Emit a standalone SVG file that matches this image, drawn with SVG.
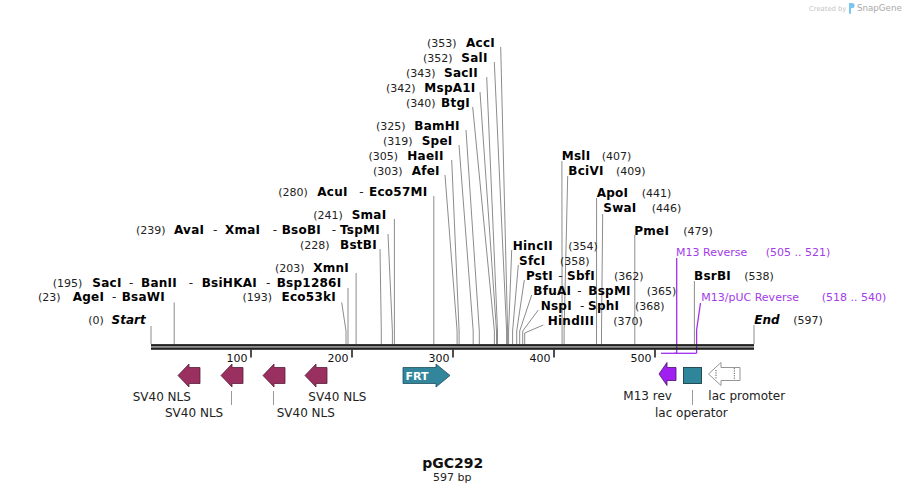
<svg xmlns="http://www.w3.org/2000/svg" width="906" height="494" viewBox="0 0 906 494">
<style>
text{font-family:"DejaVu Sans",Verdana,sans-serif}
.n{font-size:12px;font-weight:bold;fill:#000;letter-spacing:0.25px}
.p{font-size:11px;fill:#222}
.d{font-size:12px;fill:#222}
.i{font-size:12px;font-weight:bold;font-style:italic;fill:#000}
.pr{font-size:11px;fill:#a33be8}
.f{font-size:12px;fill:#222}
.tk{font-size:11px;fill:#111}
.cl{fill:none;stroke:#8c8c8c;stroke-width:1}
.pl{fill:none;stroke:#a12ff0;stroke-width:1.3}
.sv{fill:#99305f;stroke:#5a1c38;stroke-width:0.8}
.ft{fill:#31869c;stroke:#1f4f5c;stroke-width:0.8}
</style>
<rect width="906" height="494" fill="#fff"/>

<g id="watermark">
<text x="809" y="10.5" style="font-size:6.8px;fill:#c4c4c4">Created by</text>
<path d="M849 3 h3 a2.6 2.6 0 0 1 0 5.2 h-1 v5.6 h-2 z" fill="#7cc5ee"/>
<text x="857" y="11" style="font-size:8.7px;fill:#a9a9a9">SnapGene</text>
</g>

<g id="connectors">
<polyline class="cl" points="500.7,47 507.6,331 507.6,344"/>
<polyline class="cl" points="494.3,62 506.6,331 506.6,344"/>
<polyline class="cl" points="486.7,77 497.5,331 497.5,344"/>
<polyline class="cl" points="480,92 496.5,331 496.5,344"/>
<polyline class="cl" points="472.7,107 494.4,331 494.4,344"/>
<polyline class="cl" points="466,130 479.3,331 479.3,344"/>
<polyline class="cl" points="459,145 473.2,331 473.2,344"/>
<polyline class="cl" points="451.7,160 459.1,331 459.1,344"/>
<polyline class="cl" points="445,175 457.1,331 457.1,344"/>
<polyline class="cl" points="433.8,196 433.8,344"/>
<polyline class="cl" points="394.4,219 394.4,344"/>
<polyline class="cl" points="388,234 392.4,331 392.4,344"/>
<polyline class="cl" points="380,249 381.3,331 381.3,344"/>
<polyline class="cl" points="356.1,273 356.1,344"/>
<polyline class="cl" points="348,288 348,344"/>
<polyline class="cl" points="341.7,302.5 346,331 346,344"/>
<polyline class="cl" points="174.2,302.5 174.2,344"/>
<polyline class="cl" points="151,326 151,344"/>
<polyline class="cl" points="511.7,250 508.6,331 508.6,344"/>
<polyline class="cl" points="518.3,265 512.6,331 512.6,344"/>
<polyline class="cl" points="524.3,280 516.7,331 516.7,344"/>
<polyline class="cl" points="531.7,295 519.7,331 519.7,344"/>
<polyline class="cl" points="538.3,310 522.7,331 522.7,344"/>
<polyline class="cl" points="543.3,325 524.7,333 524.7,344"/>
<polyline class="cl" points="561.9,161 562.1,344"/>
<polyline class="cl" points="567.7,176 564.1,331 564.1,344"/>
<polyline class="cl" points="596.6,198 596.5,344"/>
<polyline class="cl" points="602.7,214 601.5,331 601.5,344"/>
<polyline class="cl" points="634.8,235 634.8,344"/>
<polyline class="cl" points="694.4,281 694.4,344"/>
<polyline class="cl" points="754,325 754,344"/>
<polyline class="pl" points="676.7,258 676.7,353.3"/>
<polyline class="pl" points="700.5,303 696.6,330 696.6,353.3"/>
<line class="pl" x1="661" y1="353.3" x2="677.3" y2="353.3"/>
<line class="pl" x1="674.2" y1="353.3" x2="696.6" y2="353.3"/>
<line x1="231.5" y1="391" x2="231.5" y2="405" stroke="#999"/>
<line x1="273.5" y1="391" x2="273.5" y2="405" stroke="#999"/>
<line x1="692.5" y1="390" x2="692.5" y2="405" stroke="#999"/>
</g>

<g id="backbone">
<rect x="151" y="344.1" width="603" height="2.4" fill="#222"/>
<rect x="151" y="347.4" width="603" height="2.4" fill="#222"/>
<g stroke="#222" stroke-width="1.6">
<line x1="251" y1="349.5" x2="251" y2="357.5"/>
<line x1="352" y1="349.5" x2="352" y2="357.5"/>
<line x1="453" y1="349.5" x2="453" y2="357.5"/>
<line x1="554" y1="349.5" x2="554" y2="357.5"/>
<line x1="655" y1="349.5" x2="655" y2="357.5"/>
</g>
<text class="tk" x="247.5" y="361.5" text-anchor="end">100</text>
<text class="tk" x="348.5" y="361.5" text-anchor="end">200</text>
<text class="tk" x="449.5" y="361.5" text-anchor="end">300</text>
<text class="tk" x="550.5" y="361.5" text-anchor="end">400</text>
<text class="tk" x="651.5" y="361.5" text-anchor="end">500</text>
</g>

<g id="site-AccI"><text class="p" x="427" y="47">(353)</text><text class="n" x="466" y="47">AccI</text></g>
<g id="site-SalI"><text class="p" x="423" y="62">(352)</text><text class="n" x="461.3" y="62">SalI</text></g>
<g id="site-SacII"><text class="p" x="406" y="77">(343)</text><text class="n" x="444" y="77">SacII</text></g>
<g id="site-MspA1I"><text class="p" x="386" y="92">(342)</text><text class="n" x="424.3" y="92">MspA1I</text></g>
<g id="site-BtgI"><text class="p" x="406" y="107">(340)</text><text class="n" x="441" y="107">BtgI</text></g>
<g id="site-BamHI"><text class="p" x="376" y="130">(325)</text><text class="n" x="414.3" y="130">BamHI</text></g>
<g id="site-SpeI"><text class="p" x="383" y="145">(319)</text><text class="n" x="421.7" y="145">SpeI</text></g>
<g id="site-HaeII"><text class="p" x="368.5" y="160">(305)</text><text class="n" x="407.3" y="160">HaeII</text></g>
<g id="site-AfeI"><text class="p" x="373" y="175">(303)</text><text class="n" x="411.7" y="175">AfeI</text></g>
<g id="site-AcuI"><text class="p" x="278.3" y="196">(280)</text><text class="n" x="317.3" y="196">AcuI</text><text class="d" x="359.3" y="196">-</text><text class="n" x="369" y="196">Eco57MI</text></g>
<g id="site-SmaI"><text class="p" x="313.3" y="219">(241)</text><text class="n" x="351.7" y="219">SmaI</text></g>
<g id="site-AvaI"><text class="p" x="136" y="234">(239)</text><text class="n" x="174" y="234">AvaI</text><text class="d" x="213" y="234">-</text><text class="n" x="225" y="234">XmaI</text><text class="d" x="272.7" y="234">-</text><text class="n" x="281.7" y="234">BsoBI</text><text class="d" x="331.7" y="234">-</text><text class="n" x="340" y="234">TspMI</text></g>
<g id="site-BstBI"><text class="p" x="300" y="249">(228)</text><text class="n" x="340" y="249">BstBI</text></g>
<g id="site-XmnI"><text class="p" x="275" y="271.5">(203)</text><text class="n" x="313.3" y="271.5">XmnI</text></g>
<g id="site-SacI"><text class="p" x="52.7" y="286.5">(195)</text><text class="n" x="92.3" y="286.5">SacI</text><text class="d" x="129" y="286.5">-</text><text class="n" x="141" y="286.5">BanII</text><text class="d" x="188.7" y="286.5">-</text><text class="n" x="201.7" y="286.5">BsiHKAI</text><text class="d" x="266" y="286.5">-</text><text class="n" x="276.7" y="286.5">Bsp1286I</text></g>
<g id="site-Eco53kI"><text class="p" x="242.5" y="301">(193)</text><text class="n" x="281.5" y="301">Eco53kI</text></g>
<g id="site-AgeI"><text class="p" x="38" y="301">(23)</text><text class="n" x="72.7" y="301">AgeI</text><text class="d" x="112" y="301">-</text><text class="n" x="121.7" y="301">BsaWI</text></g>
<g id="site-Start"><text class="p" x="88.3" y="324">(0)</text><text class="i" x="111.5" y="324">Start</text></g>

<g id="site-MslI"><text class="n" x="561.7" y="159.5">MslI</text><text class="p" x="601.7" y="159.5">(407)</text></g>
<g id="site-BciVI"><text class="n" x="568.3" y="174.5">BciVI</text><text class="p" x="616" y="174.5">(409)</text></g>
<g id="site-ApoI"><text class="n" x="596.7" y="196.5">ApoI</text><text class="p" x="641.7" y="196.5">(441)</text></g>
<g id="site-SwaI"><text class="n" x="603.3" y="211.5">SwaI</text><text class="p" x="651.7" y="211.5">(446)</text></g>
<g id="site-PmeI"><text class="n" x="634.3" y="234.5">PmeI</text><text class="p" x="683.3" y="234.5">(479)</text></g>
<g id="site-HincII"><text class="n" x="512.7" y="249.5">HincII</text><text class="p" x="568.3" y="249.5">(354)</text></g>
<g id="site-SfcI"><text class="n" x="519" y="264.5">SfcI</text><text class="p" x="560" y="264.5">(358)</text></g>
<g id="site-PstI"><text class="n" x="526" y="279.5">PstI</text><text class="d" x="558.3" y="279.5">-</text><text class="n" x="567" y="279.5">SbfI</text><text class="p" x="614" y="279.5">(362)</text></g>
<g id="site-BfuAI"><text class="n" x="533.3" y="294.5">BfuAI</text><text class="d" x="577.3" y="294.5">-</text><text class="n" x="588.3" y="294.5">BspMI</text><text class="p" x="646.7" y="294.5">(365)</text></g>
<g id="site-NspI"><text class="n" x="540.7" y="309.5">NspI</text><text class="d" x="580" y="309.5">-</text><text class="n" x="588" y="309.5">SphI</text><text class="p" x="635" y="309.5">(368)</text></g>
<g id="site-HindIII"><text class="n" x="547.7" y="324.5">HindIII</text><text class="p" x="613.3" y="324.5">(370)</text></g>
<g id="primer-M13Reverse"><text class="pr" x="676" y="255.5">M13 Reverse</text><text class="pr" x="765.7" y="255.5">(505 .. 521)</text></g>
<g id="site-BsrBI"><text class="n" x="694" y="279.5">BsrBI</text><text class="p" x="744.3" y="279.5">(538)</text></g>
<g id="primer-M13pUCReverse"><text class="pr" x="701.3" y="301">M13/pUC Reverse</text><text class="pr" x="821.7" y="301">(518 .. 540)</text></g>
<g id="site-End"><text class="i" x="754.3" y="324">End</text><text class="p" x="793.3" y="324">(597)</text></g>

<g id="feature-SV40NLS-1"><polygon class="sv" points="178,375.5 189,364 189,367.5 200,367.5 200,383.5 189,383.5 189,387"/><text class="f" x="132.7" y="401">SV40 NLS</text></g>
<g id="feature-SV40NLS-2"><polygon class="sv" points="221,375.5 232,364 232,367.5 243,367.5 243,383.5 232,383.5 232,387"/><text class="f" x="165" y="416.5">SV40 NLS</text></g>
<g id="feature-SV40NLS-3"><polygon class="sv" points="263,375.5 274,364 274,367.5 285,367.5 285,383.5 274,383.5 274,387"/><text class="f" x="276.7" y="416.5">SV40 NLS</text></g>
<g id="feature-SV40NLS-4"><polygon class="sv" points="305,375.5 316,364 316,367.5 327,367.5 327,383.5 316,383.5 316,387"/><text class="f" x="308.3" y="401">SV40 NLS</text></g>
<g id="feature-FRT"><polygon class="ft" points="403,367.5 436,367.5 436,364 450,375.5 436,387 436,383.5 403,383.5"/><text x="417" y="380" text-anchor="middle" style="font-size:11px;font-weight:bold;fill:#fff">FRT</text></g>
<g id="feature-M13rev"><polygon points="659,374 667,362.5 667,367.5 676,367.5 676,380.5 667,380.5 667,385.5" fill="#a020f0" stroke="#4a1070" stroke-width="0.8"/><text class="f" x="623.3" y="400">M13 rev</text></g>
<g id="feature-lacoperator"><rect x="683.5" y="367.5" width="18" height="16" fill="#2f8599" stroke="#1a3f48" stroke-width="0.9"/><text class="f" x="655" y="416.5">lac operator</text></g>
<g id="feature-lacpromoter"><polygon points="708.5,374 721,362.5 721,367.5 740,367.5 740,380.5 721,380.5 721,385.5" fill="#fff" stroke="#8a8a8a" stroke-width="0.9"/><line x1="716" y1="370" x2="716" y2="379" stroke="#333" stroke-width="0.8" stroke-dasharray="1.2,1.2"/><line x1="734.3" y1="368" x2="734.3" y2="380" stroke="#333" stroke-width="0.8" stroke-dasharray="1.2,1.2"/><text class="f" x="708.3" y="400">lac promoter</text></g>

<g id="title">
<text x="452.7" y="468.3" text-anchor="middle" style="font-size:14px;font-weight:bold;fill:#111">pGC292</text>
<text x="452.2" y="481" text-anchor="middle" style="font-size:11px;fill:#222">597 bp</text>
</g>
</svg>
